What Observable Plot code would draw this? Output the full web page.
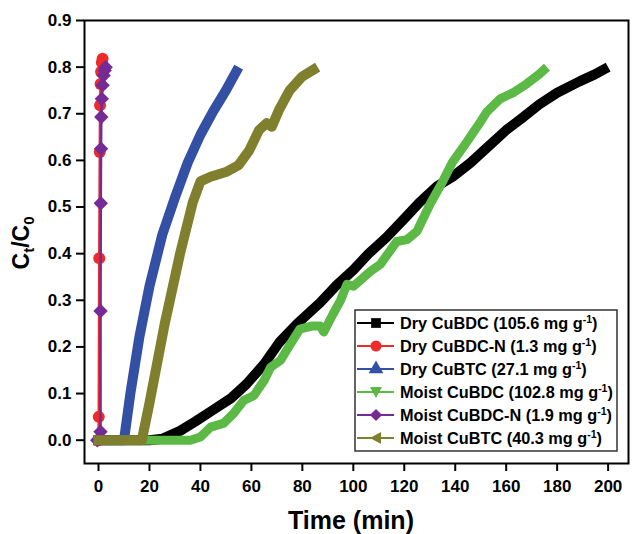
<!DOCTYPE html>
<html><head><meta charset="utf-8">
<script src="https://cdn.jsdelivr.net/npm/d3@7"></script>
<script src="https://cdn.jsdelivr.net/npm/@observablehq/plot@0.6"></script>
<style>
body{margin:0;background:#fff;}
#chart{position:relative;width:633px;height:534px;}
#chart svg{font-family:"Liberation Sans",Arial,sans-serif;}
#chart svg text{font-weight:bold;}
</style></head><body><div id="chart"></div>
<script>
// ---- data ----
const seriesNames = ["Dry CuBDC", "Dry CuBDC-N", "Dry CuBTC", "Moist CuBDC", "Moist CuBDC-N", "Moist CuBTC"];
const capacities = ["105.6", "1.3", "27.1", "102.8", "1.9", "40.3"];
const seriesColors = ["#000000", "#ee2b2b", "#3450a4", "#5cb946", "#762a96", "#7f7f2d"];

const dryCuBDC_t = [-2, 10, 20, 25, 32, 38, 45, 52, 58, 65, 71, 78, 87, 93, 100, 106, 113, 120, 126, 133, 139, 146, 152, 160, 166, 173, 180, 189, 195, 200];
const dryCuBDC_v = [0, 0, 0, 0.003, 0.02, 0.04, 0.065, 0.09, 0.12, 0.163, 0.21, 0.25, 0.295, 0.33, 0.365, 0.40, 0.435, 0.475, 0.51, 0.545, 0.565, 0.595, 0.625, 0.665, 0.69, 0.72, 0.745, 0.77, 0.785, 0.80];

const dryCuBDCN_t = [0, 0.1, 0.3, 0.5, 0.6, 0.8, 1.0, 1.3, 1.6];
const dryCuBDCN_v = [0, 0.05, 0.39, 0.618, 0.718, 0.764, 0.79, 0.81, 0.818];

const dryCuBTC_t = [-2, 10, 12.5, 16, 20, 25, 30, 35, 40, 45, 50, 55];
const dryCuBTC_v = [0, 0, 0.1, 0.22, 0.33, 0.44, 0.52, 0.595, 0.655, 0.705, 0.75, 0.80];

const moistCuBDC_t = [-2, 32, 36, 40, 44, 49, 53, 57, 61, 65, 67.5, 71.4, 75.3, 79, 84, 87, 88.4, 92, 95, 97.5, 100, 106.7, 110.6, 117, 121, 125, 130, 135, 139, 144.6, 149.8, 152.4, 157.6, 163, 168, 173, 176];
const moistCuBDC_v = [0, 0, 0, 0.007, 0.028, 0.036, 0.057, 0.085, 0.096, 0.128, 0.156, 0.171, 0.206, 0.238, 0.245, 0.245, 0.232, 0.27, 0.30, 0.334, 0.33, 0.362, 0.377, 0.426, 0.43, 0.448, 0.505, 0.554, 0.597, 0.64, 0.682, 0.704, 0.732, 0.746, 0.764, 0.785, 0.80];

const moistCuBDCN_t = [-0.5, 0.8, 0.8, 0.9, 1.0, 1.1, 1.3, 1.6, 2.0, 2.4, 2.8];
const moistCuBDCN_v = [0, 0.018, 0.277, 0.508, 0.625, 0.693, 0.732, 0.761, 0.782, 0.793, 0.80];

const moistCuBTC_t = [-2, 17, 20, 26, 32, 37, 40, 44, 50, 55, 59, 63, 66, 68, 71, 75, 80, 86];
const moistCuBTC_v = [0, 0, 0.08, 0.25, 0.40, 0.51, 0.555, 0.565, 0.575, 0.59, 0.62, 0.665, 0.68, 0.672, 0.71, 0.75, 0.78, 0.80];

const xTicks = [0, 20, 40, 60, 80, 100, 120, 140, 160, 180, 200];
const yTicks = [0, 0.1, 0.2, 0.3, 0.4, 0.5, 0.6, 0.7, 0.8, 0.9];

// ---- build tables ----
const ts = [dryCuBDC_t, dryCuBDCN_t, dryCuBTC_t, moistCuBDC_t, moistCuBDCN_t, moistCuBTC_t];
const vs = [dryCuBDC_v, dryCuBDCN_v, dryCuBTC_v, moistCuBDC_v, moistCuBDCN_v, moistCuBTC_v];
const tables = ts.map((t, i) => t.map((x, j) => ({series: seriesNames[i], t: x, v: vs[i][j]})));

const band = (i, w) => Plot.line(tables[i], {x: "t", y: "v", stroke: seriesColors[i], strokeWidth: w, strokeLinejoin: "round", strokeLinecap: "butt"});

const chart = Plot.plot({
  width: 633, height: 534,
  marginLeft: 84, marginRight: 5, marginTop: 20, marginBottom: 71,
  x: {domain: [-5.5, 208]},
  y: {domain: [-0.05, 0.9]},
  style: {background: "white", fontFamily: "Liberation Sans, Arial, sans-serif"},
  marks: [
    band(0, 10),
    Plot.line(tables[1], {x: "t", y: "v", stroke: seriesColors[1], strokeWidth: 2.5}),
    Plot.dot(tables[1], {x: "t", y: "v", fill: seriesColors[1], r: 6, symbol: "circle"}),
    band(2, 10),
    band(3, 9),
    Plot.line(tables[4], {x: "t", y: "v", stroke: seriesColors[4], strokeWidth: 2.5}),
    Plot.dot(tables[4], {x: "t", y: "v", fill: seriesColors[4], r: 6.5, symbol: "diamond2"}),
    band(5, 10),
    Plot.axisX({ticks: xTicks, tickSize: 8, tickPadding: 8, fontSize: 17, label: null, strokeWidth: 2}),
    Plot.axisY({ticks: yTicks, tickSize: 8, tickPadding: 5, fontSize: 17, tickFormat: d => d.toFixed(1), label: null, strokeWidth: 2}),
    Plot.frame({stroke: "black", strokeWidth: 2})
  ]
});
document.getElementById("chart").appendChild(chart);

// ---- axis titles ----
const svg = d3.select(chart);
const yl = svg.append("text").attr("transform", "translate(29,243) rotate(-90)")
  .attr("text-anchor", "middle").attr("font-size", 23).attr("fill", "black");
yl.append("tspan").text("C");
yl.append("tspan").attr("font-size", 15).attr("dy", 5).text("t");
yl.append("tspan").attr("dy", -5).text("/C");
yl.append("tspan").attr("font-size", 15).attr("dy", 5).text("0");

svg.append("text").attr("x", 351).attr("y", 529).attr("text-anchor", "middle")
  .attr("font-size", 25).attr("fill", "black").text("Time (min)");

// ---- legend ----
const lg = svg.append("g");
lg.append("rect").attr("x", 355).attr("y", 310).attr("width", 262).attr("height", 141)
  .attr("fill", "white").attr("stroke", "#333").attr("stroke-width", 1.5);
const rowY = [323, 346, 369, 392, 415, 438];
const syms = [d3.symbolSquare, d3.symbolCircle, d3.symbolTriangle, "down", d3.symbolDiamond2, "left"];
seriesNames.forEach((name, i) => {
  const y = rowY[i];
  lg.append("line").attr("x1", 357).attr("x2", 394).attr("y1", y).attr("y2", y)
    .attr("stroke", seriesColors[i]).attr("stroke-width", 2);
  let path;
  if (syms[i] === "down") path = "M-6,-5L6,-5L0,6Z";
  else if (syms[i] === "left") path = "M-6,0L5,-6L5,6Z";
  else path = d3.symbol(syms[i], 95)();
  lg.append("path").attr("d", path).attr("transform", `translate(376,${y})`).attr("fill", seriesColors[i]);
  const t = lg.append("text").attr("x", 400).attr("y", y + 5.5).attr("text-anchor", "start")
    .attr("font-size", 16.3).attr("fill", "black");
  t.append("tspan").text(`${name} (${capacities[i]} mg g`);
  t.append("tspan").attr("font-size", 10.5).attr("dy", -6).text("-1");
  t.append("tspan").attr("dy", 6).text(")");
});
</script>
</body></html>
